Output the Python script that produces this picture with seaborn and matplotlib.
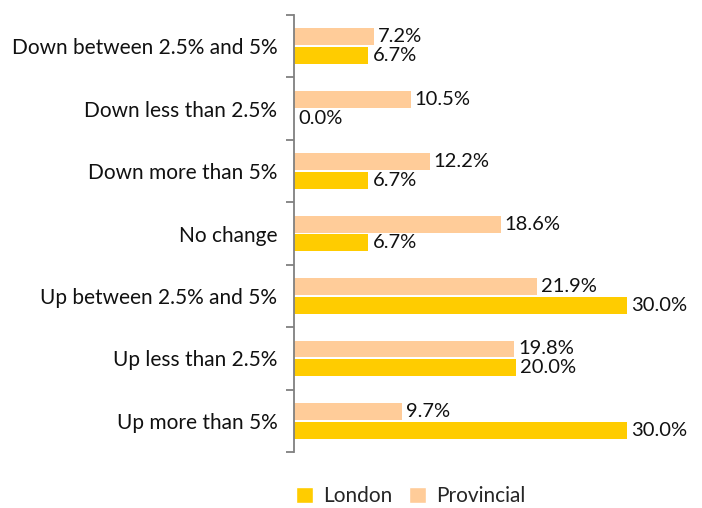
import matplotlib
matplotlib.use("Agg")
import matplotlib.pyplot as plt
import seaborn as sns
import pandas as pd
from matplotlib.patches import Patch

categories = [
    "Down between 2.5% and 5%",
    "Down less than 2.5%",
    "Down more than 5%",
    "No change",
    "Up between 2.5% and 5%",
    "Up less than 2.5%",
    "Up more than 5%",
]
provincial = [7.2, 10.5, 12.2, 18.6, 21.9, 19.8, 9.7]
london = [6.7, 0.0, 6.7, 6.7, 30.0, 20.0, 30.0]
series_names = ["Provincial", "London"]
colors = {"London": "#FFCC00", "Provincial": "#FFCC99"}

df = pd.DataFrame({
    "category": categories * 2,
    "value": provincial + london,
    "series": ["Provincial"] * len(categories) + ["London"] * len(categories),
})

sns.set_theme(style="white")
plt.rcParams["font.family"] = ["Lato", "DejaVu Sans"]

fig = plt.figure(figsize=(7.02, 5.08), dpi=100)
ax = fig.add_axes([294 / 702, 1 - 452 / 508, 400 / 702, (452 - 15) / 508])

sns.barplot(
    data=df, y="category", x="value", hue="series",
    hue_order=series_names, order=categories, palette=colors,
    orient="h", width=0.6, gap=0.1, saturation=1, linewidth=0,
    legend=False, ax=ax,
)

for container in ax.containers:
    ax.bar_label(container, fmt="%.1f%%", padding=3, fontsize=14.5, color="#111111")

ax.set_xlim(0, 36)
ax.set_ylim(len(categories) - 0.5, -0.5)
ax.set_xlabel("")
ax.set_ylabel("")
ax.set_xticks([])

for side in ["top", "right", "bottom"]:
    ax.spines[side].set_visible(False)
ax.spines["left"].set_color("#808080")
ax.spines["left"].set_linewidth(1.3)

ax.set_yticks(range(len(categories)))
ax.set_yticklabels(categories, fontsize=15, color="#111111")
ax.tick_params(axis="y", which="major", length=0, pad=12)
ax.set_yticks([i - 0.5 for i in range(len(categories) + 1)], minor=True)
ax.tick_params(axis="y", which="minor", length=6, width=1.3, color="#808080", direction="out", left=True)

handles = [Patch(facecolor=colors["London"], label="London"),
           Patch(facecolor=colors["Provincial"], label="Provincial")]
fig.legend(
    handles=handles, loc="center", bbox_to_anchor=(411 / 702, 1 - 496 / 508),
    ncol=2, frameon=False, fontsize=15, handlelength=0.8, handleheight=0.8,
    handletextpad=0.5, columnspacing=0.8, borderpad=0.2,
)

fig.savefig("out.png", dpi=100)
